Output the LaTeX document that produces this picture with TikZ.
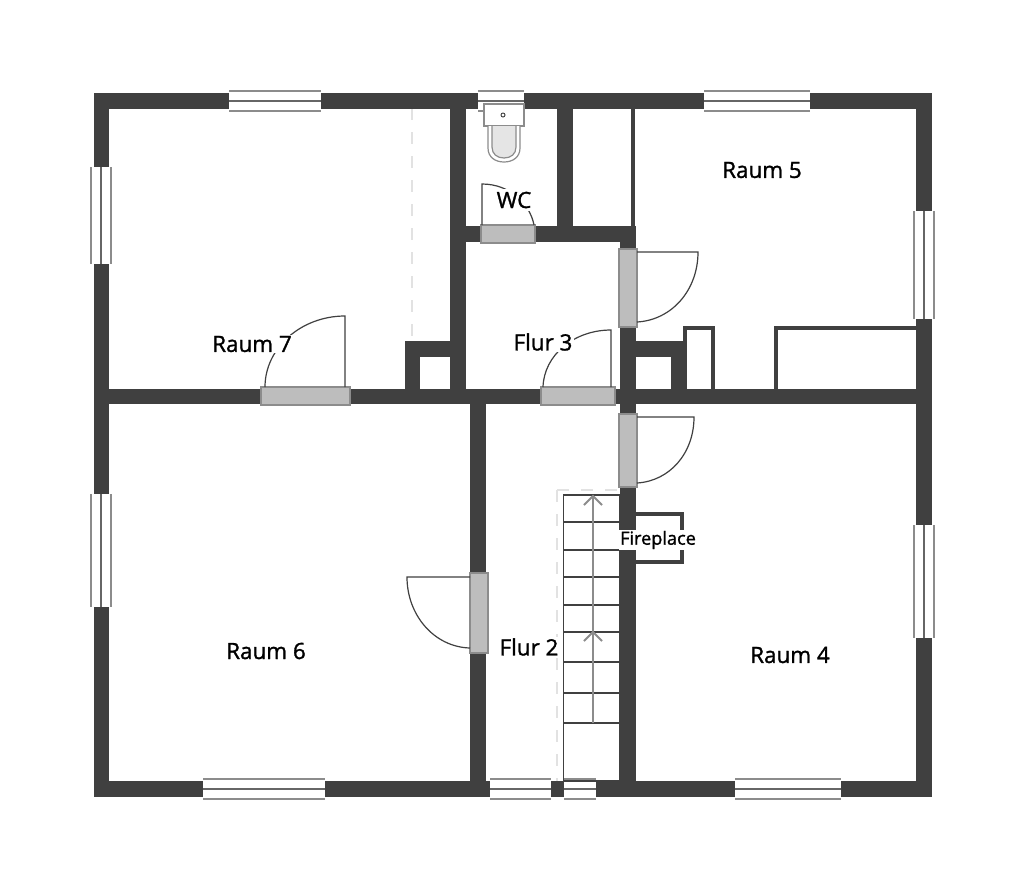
\documentclass[tikz,border=0pt]{standalone}
\usepackage{fontspec}
\setmainfont[RawFeature={embolden=1.3}]{Open Sans}
\definecolor{wallGrey}{HTML}{404040}
\definecolor{doorGrey}{HTML}{BDBDBD}
\definecolor{edgeGrey}{HTML}{8C8C8C}
\definecolor{guideGrey}{HTML}{E2E2E2}
\begin{document}
\begin{tikzpicture}[
  x=0.75pt,
  y=-0.75pt,
  every node/.style={
    font=\fontsize{16.8}{18}\selectfont,
    text=black,
    fill=white,
    inner sep=1pt,
  },
  wall/.style={
    draw=wallGrey,
    line width=11.4pt,
  },
  thinwall/.style={
    draw=wallGrey,
    line width=3pt,
  },
  guide/.style={
    draw=guideGrey,
    line width=1.5pt,
    dash pattern=on 9pt off 9pt,
  },
  leaf/.style={
    draw=wallGrey,
    line width=0.9pt,
  },
  door/.style={
    draw=edgeGrey,
    fill=doorGrey,
    line width=0.9pt,
  },
  pane/.style={
    fill=white,
  },
  sash/.style={
    draw=edgeGrey,
    line width=1.5pt,
  },
  mullion/.style={
    draw=wallGrey!80,
    line width=1.1pt,
  },
  tread/.style={
    draw=black!75,
    line width=1pt,
  },
  walkline/.style={
    draw=edgeGrey,
    line width=1.4pt,
  },
  fixture/.style={
    draw=edgeGrey,
    line width=0.9pt,
  },
]
\useasboundingbox (0,0) rectangle (1024,890);
\fill[white] (0,0) rectangle (1024,890);
% guide lines
\draw[guide] (412,108) -- (412,342);
\draw[guide] (557,490) -- (557,782);
\draw[guide] (557,490) -- (620,490);
% walls
\draw[wall,line join=miter] (101.5,101) -- (924,101) -- (924,789) -- (101.5,789) -- cycle;
\draw[wall] (101,396.5) -- (924,396.5);
\draw[wall] (458,101) -- (458,396);
\draw[wall] (565,101) -- (565,234);
\draw[wall] (458,234) -- (636,234);
\draw[wall] (628,226.4) -- (628,789);
\draw[wall] (478,396) -- (478,789);
\draw[wall] (458,349) -- (412.5,349) -- (412.5,396);
\draw[wall] (628,349) -- (678.5,349) -- (678.5,396);
% closets and fireplace
\draw[thinwall] (633,108) -- (633,226);
\draw[thinwall] (685,389) -- (685,327.5) -- (713,327.5) -- (713,389);
\draw[thinwall] (776,389) -- (776,328) -- (917,328);
\draw[thinwall] (636,513.5) -- (681.5,513.5) -- (681.5,562) -- (636,562);
% windows along x
\foreach \xa/\xb/\y in {229/321/101,478/524/101,704/810/101,203/325/789,490/551/789,564/596/789,735/841/789} {
  \fill[pane] (\xa,\y-10) rectangle (\xb,\y+10);
  \draw[sash] (\xa,\y-10) -- (\xb,\y-10);
  \draw[sash] (\xa,\y+10) -- (\xb,\y+10);
  \draw[mullion] (\xa,\y) -- (\xb,\y);
}
% windows along y
\foreach \ya/\yb/\x in {167/264/101,494/607/101,211/319/924,525/638/924} {
  \fill[pane] (\x-10,\ya) rectangle (\x+10,\yb);
  \draw[sash] (\x-10,\ya) -- (\x-10,\yb);
  \draw[sash] (\x+10,\ya) -- (\x+10,\yb);
  \draw[mullion] (\x,\ya) -- (\x,\yb);
}
% doors
\draw[door] (261,387) rectangle (350,405);
\draw[door] (541,387) rectangle (615,405);
\draw[door] (481,225) rectangle (535,243);
\draw[door] (619,249) rectangle (637,327);
\draw[door] (619,414) rectangle (637,487);
\draw[door] (470,573) rectangle (488,653);
\draw[leaf] (345,387) -- (345,316) .. controls (301,316) and (265,348) .. (265,387);
\draw[leaf] (611,387) -- (611,330) .. controls (574,330) and (544,355) .. (543,387);
\draw[leaf] (482,225) -- (482,184) .. controls (510,184) and (530,204) .. (534,225);
\draw[leaf] (637,252) -- (698,252) .. controls (698,290) and (672,320) .. (637,322);
\draw[leaf] (637,417) -- (694,417) .. controls (694,453) and (670,481) .. (637,483);
\draw[leaf] (470,577) -- (407,577) .. controls (407,615) and (434,647) .. (470,648);
% stairs
\draw[tread] (563.5,495) rectangle (620,781);
\foreach \y in {522,550,577,605,632,662,693,723} {
  \draw[tread] (563.5,\y) -- (620,\y);
}
\draw[walkline] (593,723) -- (593,496);
\draw[walkline] (584,505) -- (593,496) -- (602,505);
\draw[walkline] (584,641) -- (593,632) -- (602,641);
% toilet
\draw[fixture,fill=white] (484,104) rectangle (524,126);
\draw[fixture,fill=white] (488,126) -- (488,148) .. controls (488,157) and (495,162) .. (504,162) .. controls (513,162) and (520,157) .. (520,148) -- (520,126);
\draw[fixture,fill=black!10] (492,126) -- (492,147) .. controls (492,154) and (497,158) .. (504,158) .. controls (511,158) and (516,154) .. (516,147) -- (516,126);
\draw[draw=wallGrey,line width=0.7pt] (503,115) circle (2);
% labels
\node (raum5) at (762,170) {Raum 5};
\node (raum7) at (252,344) {Raum 7};
\node[inner xsep=3pt,inner ysep=2pt] (wc) at (514,200) {WC};
\node (flur3) at (543,342) {Flur 3};
\node (raum6) at (266,651) {Raum 6};
\node (flur2) at (529,647) {Flur 2};
\node (raum4) at (790,655) {Raum 4};
\node[font=\fontsize{13.6}{15}\selectfont] (fireplace) at (658,540) {Fireplace};
\end{tikzpicture}
\end{document}
